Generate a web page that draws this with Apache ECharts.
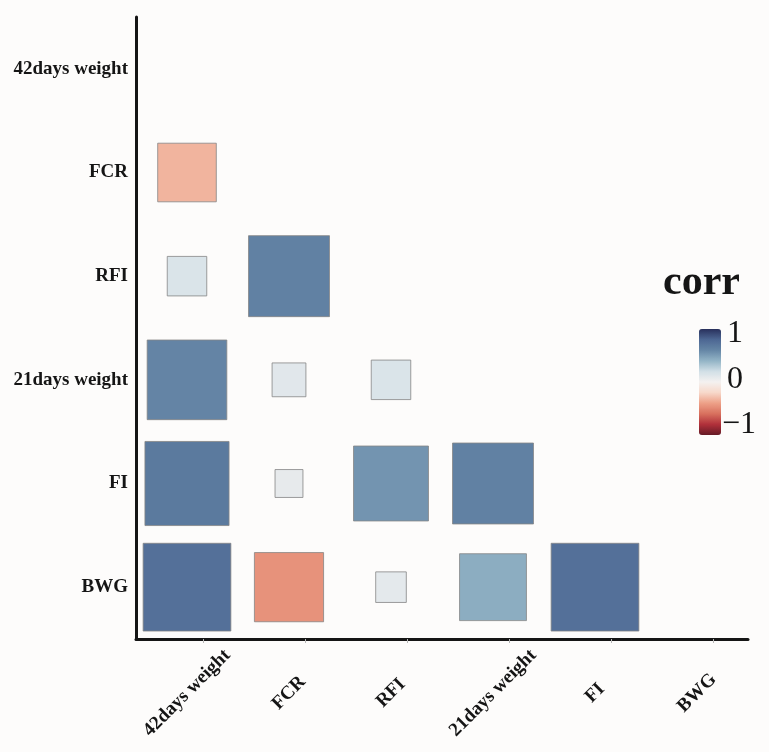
<!DOCTYPE html>
<html><head><meta charset="utf-8">
<script src="https://cdn.jsdelivr.net/npm/echarts@6/dist/echarts.min.js"></script>
<style>html,body{margin:0;padding:0;background:#fdfcfb}#c{width:769px;height:752px}</style>
</head><body><div id="c"></div>
<script>
// categories
const xCategories = ['42days weight','FCR','RFI','21days weight','FI','BWG'];
const yCategories = ['42days weight','FCR','RFI','21days weight','FI','BWG'];
// correlation values per row (lower triangle, columns in xCategories order)
const row42days = [];
const rowFCR = [-0.33];
const rowRFI = [0.15, 0.63];
const row21days = [0.61, 0.11, 0.15];
const rowFI = [0.68, 0.075, 0.54, 0.63];
const rowBWG = [0.74, -0.46, 0.09, 0.43, 0.74];
// legend
const legendTitle = 'corr';
const legendTicks = ['1', '0', '\u22121'];
const colorStops = ['#661a25','#b0303a','#d8705e','#eda087','#f7d8ca','#f4f1f0','#d1dfe6','#93b4c6','#6586a6','#4d6793','#28305c'];

const rows = [row42days, rowFCR, rowRFI, row21days, rowFI, rowBWG];
const data = [];
rows.forEach((vals, ri) => vals.forEach((v, ci) => data.push([ci, ri, v])));

const serif = 'Liberation Serif, Times New Roman, serif';
const chart = echarts.init(document.getElementById('c'));

function renderItem(params, api) {
  const c = api.coord([api.value(0), api.value(1)]);
  const s = api.size([1, 1]);
  const k = Math.sqrt(Math.abs(api.value(2)));
  const w = s[0] * k;
  return {
    type: 'rect',
    shape: { x: c[0] - w / 2, y: c[1] - w / 2, width: w, height: w },
    style: { fill: api.visual('color'), stroke: '#858585', lineWidth: 0.8 }
  };
}

chart.setOption({
  backgroundColor: '#fdfcfb',
  animation: false,
  grid: [
    { left: 136, top: 17, width: 612, height: 622 },
    { left: 152, top: 17, width: 612, height: 622 }
  ],
  xAxis: [
    {
      type: 'category', data: xCategories, gridIndex: 0,
      axisLine: { lineStyle: { color: '#151515', width: 3 } },
      axisTick: { show: false },
      splitLine: { show: false },
      axisLabel: {
        rotate: 45, align: 'center', verticalAlign: 'middle', margin: 54,
        fontFamily: serif, fontWeight: 'bold', fontSize: 19, color: '#151515'
      }
    },
    {
      type: 'category', data: xCategories, gridIndex: 1,
      axisLine: { show: false },
      axisTick: { show: true, alignWithLabel: true, length: 4, lineStyle: { color: '#b5b5b5', width: 1 } },
      axisLabel: { show: false },
      splitLine: { show: false }
    }
  ],
  yAxis: [
    {
      type: 'category', data: yCategories, inverse: true, gridIndex: 0,
      axisLine: { lineStyle: { color: '#151515', width: 3 } },
      axisTick: { alignWithLabel: true, length: 4, lineStyle: { color: '#151515', width: 2 } },
      splitLine: { show: false },
      axisLabel: { fontFamily: serif, fontWeight: 'bold', fontSize: 19, color: '#151515', margin: 8 }
    },
    {
      type: 'category', data: yCategories, inverse: true, gridIndex: 1, show: false
    }
  ],
  visualMap: {
    type: 'continuous', min: -1, max: 1, dimension: 2,
    orient: 'vertical', left: 699, top: 329, itemWidth: 22, itemHeight: 106,
    padding: 0, calculable: false, text: null, showLabel: false,
    inRange: { color: colorStops },
    seriesIndex: 0
  },
  series: [{
    type: 'custom', xAxisIndex: 0, yAxisIndex: 0,
    renderItem: renderItem,
    encode: { x: 0, y: 1 },
    data: data
  }],
  graphic: [
    { type: 'text', left: 663, top: 262, style: { text: legendTitle, font: 'bold 42px ' + serif, fill: '#151515' } },
    { type: 'text', x: 727, y: 334, style: { text: legendTicks[0], font: '32px ' + serif, fill: '#151515', verticalAlign: 'middle' } },
    { type: 'text', x: 727, y: 380, style: { text: legendTicks[1], font: '32px ' + serif, fill: '#151515', verticalAlign: 'middle' } },
    { type: 'text', x: 722, y: 425, style: { text: legendTicks[2], font: '32px ' + serif, fill: '#151515', verticalAlign: 'middle' } }
  ]
});
</script>
</body></html>
